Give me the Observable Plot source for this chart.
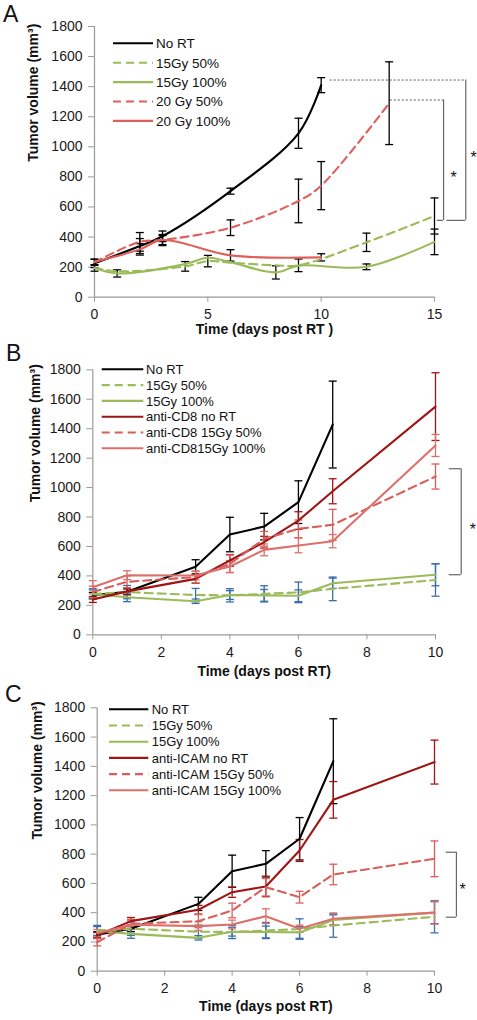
<!DOCTYPE html>
<html><head><meta charset="utf-8">
<script src="https://cdn.jsdelivr.net/npm/d3@7"></script>
<script src="https://cdn.jsdelivr.net/npm/@observablehq/plot@0.6"></script>
<style>
html,body{margin:0;padding:0;background:#fff;}
.panel{position:relative;width:477px;height:340px;}
.panel svg.over{position:absolute;left:0;top:0;pointer-events:none;overflow:visible;}
</style></head>
<body><div id="root"></div>
<script>
// ---------------- DATA ----------------
const yTicks = [0,200,400,600,800,1000,1200,1400,1600,1800];
const yTitle = "Tumor volume (mm³)";

// Panel A
const A_xTicks = [0,5,10,15];
const A_names = ["No RT","15Gy 50%","15Gy 100%","20 Gy 50%","20 Gy 100%"];
const A_noRT_days = [0,2,3,6,9,10];
const A_noRT_vals = [225,340,405,705,1090,1410];
const A_noRT_err  = [28,50,35,20,100,50];
const A_g50_days = [0,1,4,5,6,8,9,12,15];
const A_g50_vals = [195,172,205,240,230,212,212,365,540];
const A_g50_err  = [22,0,32,38,0,0,42,61,120];
const A_g100_days = [0,1,4,5,6,8,9,12,15];
const A_g100_vals = [195,158,220,262,233,165,210,202,368];
const A_g100_err  = [0,24,0,0,0,44,0,19,85];
const A_r50_days = [0,2,3,6,9,10,13];
const A_r50_vals = [232,368,380,462,640,742,1290];
const A_r50_err  = [20,62,30,52,145,160,275];
const A_r100_days = [0,2,3,6,10];
const A_r100_vals = [235,318,380,278,265];
const A_r100_err  = [0,38,37,38,24];
// significance brackets A
const A_brTop = [1444,1311];
const A_brDotFrom = [10.4,13.05];
const A_brX = [16.38,15.4];
const A_brBottom = [511,511];
const A_brFoot = [15.55,15.12];
const A_starX = [16.72,15.84];
const A_starY = [954,821];

// Panel B
const B_xTicks = [0,2,4,6,8,10];
const B_names = ["No RT","15Gy 50%","15Gy 100%","anti-CD8 no RT","anti-CD8 15Gy 50%","anti-CD815Gy 100%"];
const B_days = [0,1,3,4,5,6,7,10];
const B_noRT_days = [0,1,3,4,5,6,7];
const B_noRT_vals = [268,292,462,681,735,901,1428];
const B_noRT_err  = [20,20,48,117,90,145,295];
const B_g50_vals = [278,290,270,268,278,288,312,372];
const B_g50_err  = [35,45,45,45,55,70,80,110];
const B_g100_vals = [275,255,228,270,268,265,350,408];
const B_g100_err  = [30,30,15,30,40,40,35,75];
const B_cd8no_vals = [240,295,380,505,629,776,975,1550];
const B_cd8no_err  = [20,20,30,40,40,60,85,230];
const B_cd850_vals = [290,360,392,482,652,720,747,1075];
const B_cd850_err  = [40,40,40,60,50,60,105,85];
const B_cd8100_vals = [323,405,403,464,577,607,636,1286];
const B_cd8100_err  = [45,30,30,40,40,50,45,75];
const B_brTop = [1128], B_brBottom = [408], B_brIn = [10.4], B_brOut = [10.75], B_starX = [11.09], B_starY = [742];

// Panel C
const C_xTicks = [0,2,4,6,8,10];
const C_names = ["No RT","15Gy 50%","15Gy 100%","anti-ICAM no RT","anti-ICAM 15Gy 50%","anti-ICAM 15Gy 100%"];
const C_days = [0,1,3,4,5,6,7,10];
const C_noRT_days = [0,1,3,4,5,6,7];
const C_noRT_vals = [250,290,460,683,734,905,1435];
const C_noRT_err  = [20,20,45,110,90,145,290];
const C_g50_vals = [278,290,270,268,278,288,312,372];
const C_g50_err  = [35,45,45,45,55,70,80,110];
const C_g100_vals = [275,255,228,270,268,265,350,400];
const C_g100_err  = [30,30,15,30,40,40,35,75];
const C_icamno_vals = [244,342,420,540,579,825,1171,1429];
const C_icamno_err  = [20,25,30,35,70,75,125,150];
const C_icam50_vals = [198,324,342,415,574,506,661,768];
const C_icam50_err  = [25,30,45,50,60,40,70,122];
const C_icam100_vals = [260,317,308,319,376,290,358,400];
const C_icam100_err  = [25,30,30,30,50,25,40,78];
const C_brTop = [813], C_brBottom = [369], C_brIn = [10.35], C_brOut = [10.65], C_starX = [10.83], C_starY = [586];

// ---------------- STYLE ----------------
const FONT = "'Liberation Sans', Arial, Helvetica, sans-serif";
const AXIS = "#9a9a9a";
const COL = {
  black:"#000000", green:"#9BBB59", darkred:"#A01414",
  pinkDash:"#D95E5A", pinkSolid:"#DC706B", redA:"#DF5F5B", blue:"#3A6EA8"
};
const DASH = "8,5";

function S(name, days, vals, errs, color, dashed, errColor){
  return {name, days, vals, errs, color, dashed, errColor};
}

const panels = [
  {
    letter:"A", xDomain:[0,15], xTicks:A_xTicks, xTitle:"Time (days post RT )",
    margins:{l:94,r:43,t:26,b:43.3}, curve:"catmull-rom",
    xTitleDy:37, yTitleDx:-61,
    letterPos:{x:3,y:22},
    legend:{x1:113,x2:153,tx:156,y0:43.3,dy:19.4,fs:13.5},
    series:[
      S(A_names[0],A_noRT_days,A_noRT_vals,A_noRT_err,COL.black,false,"#000"),
      S(A_names[1],A_g50_days,A_g50_vals,A_g50_err,COL.green,true,"#000"),
      S(A_names[2],A_g100_days,A_g100_vals,A_g100_err,COL.green,false,"#000"),
      S(A_names[3],A_r50_days,A_r50_vals,A_r50_err,COL.redA,true,"#000"),
      S(A_names[4],A_r100_days,A_r100_vals,A_r100_err,COL.redA,false,"#000")
    ],
    dotted: A_brTop.map((t,i)=>({y:t, x1:A_brDotFrom[i], x2:A_brX[i]})),
    brackets: A_brTop.map((t,i)=>({top:t, bottom:A_brBottom[i], xOut:A_brX[i], xIn:A_brFoot[i], topSolid:false})),
    stars: A_starX.map((x,i)=>({x, y:A_starY[i]}))
  },
  {
    letter:"B", xDomain:[0,10], xTicks:B_xTicks, xTitle:"Time (days post RT)",
    margins:{l:92.3,r:42,t:29.3,b:45.7}, curve:"linear",
    xTitleDy:41, yTitleDx:-57,
    letterPos:{x:6,y:21},
    legend:{x1:101.7,x2:143.3,tx:146,y0:29.3,dy:15.8,fs:13},
    series:[
      S(B_names[0],B_noRT_days,B_noRT_vals,B_noRT_err,COL.black,false,"#000"),
      S(B_names[1],B_days,B_g50_vals,B_g50_err,COL.green,true,COL.blue),
      S(B_names[2],B_days,B_g100_vals,B_g100_err,COL.green,false,COL.blue),
      S(B_names[3],B_days,B_cd8no_vals,B_cd8no_err,COL.darkred,false,COL.darkred),
      S(B_names[4],B_days,B_cd850_vals,B_cd850_err,COL.pinkDash,true,COL.pinkDash),
      S(B_names[5],B_days,B_cd8100_vals,B_cd8100_err,COL.pinkSolid,false,COL.pinkSolid)
    ],
    dotted: [],
    brackets: B_brTop.map((t,i)=>({top:t, bottom:B_brBottom[i], xOut:B_brOut[i], xIn:B_brIn[i], topSolid:true})),
    stars: B_starX.map((x,i)=>({x, y:B_starY[i]}))
  },
  {
    letter:"C", xDomain:[0,10], xTicks:C_xTicks, xTitle:"Time (days post RT)",
    margins:{l:96.7,r:43,t:27.3,b:49.3}, curve:"linear",
    xTitleDy:40, yTitleDx:-60,
    letterPos:{x:5,y:22},
    legend:{x1:109,x2:148.3,tx:151.7,y0:29.3,dy:16.2,fs:13},
    series:[
      S(C_names[0],C_noRT_days,C_noRT_vals,C_noRT_err,COL.black,false,"#000"),
      S(C_names[1],C_days,C_g50_vals,C_g50_err,COL.green,true,COL.blue),
      S(C_names[2],C_days,C_g100_vals,C_g100_err,COL.green,false,COL.blue),
      S(C_names[3],C_days,C_icamno_vals,C_icamno_err,COL.darkred,false,COL.darkred),
      S(C_names[4],C_days,C_icam50_vals,C_icam50_err,COL.pinkDash,true,COL.pinkDash),
      S(C_names[5],C_days,C_icam100_vals,C_icam100_err,COL.pinkSolid,false,COL.pinkSolid)
    ],
    dotted: [],
    brackets: C_brTop.map((t,i)=>({top:t, bottom:C_brBottom[i], xOut:C_brOut[i], xIn:C_brIn[i], topSolid:true})),
    stars: C_starX.map((x,i)=>({x, y:C_starY[i]}))
  }
];

const capSymbol = {draw(ctx, size){ const w = Math.sqrt(size/Math.PI); ctx.moveTo(-w,0); ctx.lineTo(w,0); }};

function rowsOf(s){ return s.days.map((d,i)=>({day:d, v:s.vals[i], e:s.errs[i]})); }

function makePanel(p){
  const marks = [
    Plot.ruleX([0], {stroke:AXIS, strokeWidth:1.2}),
    Plot.ruleY([0], {stroke:AXIS, strokeWidth:1.2}),
    Plot.axisY({ticks:yTicks, tickSize:6, tickPadding:6, stroke:AXIS, fill:"#1a1a1a", fontSize:14, label:null, tickFormat:d=>String(d)}),
    Plot.axisX({ticks:p.xTicks, tickSize:5, tickPadding:7, stroke:AXIS, fill:"#1a1a1a", fontSize:14, label:null, tickFormat:d=>String(d)}),
    Plot.text([p.xTitle], {text:d=>d, frameAnchor:"bottom", dy:p.xTitleDy, fontWeight:"bold", fontSize:14, fill:"#111"}),
    Plot.text([yTitle], {text:d=>d, frameAnchor:"left", rotate:-90, dx:p.yTitleDx, fontWeight:"bold", fontSize:14, fill:"#111"})
  ];
  for (const s of p.series){
    const rows = rowsOf(s);
    const eb = rows.filter(r=>r.e>0);
    const caps = eb.flatMap(r=>[{day:r.day, y:r.v-r.e},{day:r.day, y:r.v+r.e}]);
    marks.push(Plot.ruleX(eb, {x:"day", y1:r=>r.v-r.e, y2:r=>r.v+r.e, stroke:s.errColor, strokeWidth:1.3}));
    marks.push(Plot.dot(caps, {x:"day", y:"y", r:4, symbol:capSymbol, stroke:s.errColor, fill:"none", strokeWidth:1.3}));
  }
  for (const s of p.series){
    marks.push(Plot.line(rowsOf(s), {x:"day", y:"v", stroke:s.color, strokeWidth:2.1,
      strokeDasharray: s.dashed ? DASH : null, curve:p.curve}));
  }
  // annotations
  if (p.dotted.length) marks.push(Plot.ruleY(p.dotted, {y:"y", x1:"x1", x2:"x2", stroke:"#555", strokeWidth:1, strokeDasharray:"2,2"}));
  marks.push(Plot.ruleY(p.brackets.filter(b=>b.topSolid), {y:"top", x1:"xIn", x2:"xOut", stroke:"#666", strokeWidth:1.2}));
  marks.push(Plot.ruleY(p.brackets, {y:"bottom", x1:"xIn", x2:"xOut", stroke:"#666", strokeWidth:1.2}));
  marks.push(Plot.ruleX(p.brackets, {x:"xOut", y1:"bottom", y2:"top", stroke:"#666", strokeWidth:1.2}));
  marks.push(Plot.text(p.stars, {x:"x", y:"y", text:()=>"*", fontSize:16, dy:4, fill:"#111"}));

  return Plot.plot({
    width:477, height:340,
    marginLeft:p.margins.l, marginRight:p.margins.r, marginTop:p.margins.t, marginBottom:p.margins.b,
    style:{fontFamily:FONT, background:"#fff", overflow:"visible"},
    x:{domain:p.xDomain, label:null},
    y:{domain:[0,1800], label:null},
    marks
  });
}

const root = document.getElementById("root");
for (const p of panels){
  const div = document.createElement("div");
  div.className = "panel";
  div.appendChild(makePanel(p));
  const over = d3.create("svg").attr("class","over").attr("width",477).attr("height",340)
    .style("font-family", FONT);
  over.append("text").attr("x",p.letterPos.x).attr("y",p.letterPos.y).attr("font-size",23).attr("fill","#111").text(p.letter);
  const L = p.legend;
  p.series.forEach((s,i)=>{
    const y = L.y0 + i*L.dy;
    over.append("line").attr("x1",L.x1).attr("x2",L.x2).attr("y1",y).attr("y2",y)
      .attr("stroke",s.color).attr("stroke-width",2.1).attr("stroke-dasharray", s.dashed ? DASH : null);
    over.append("text").attr("x",L.tx).attr("y",y).attr("dy","0.36em").attr("font-size",L.fs).attr("fill","#111").text(s.name);
  });
  div.appendChild(over.node());
  root.appendChild(div);
}
</script></body></html>
